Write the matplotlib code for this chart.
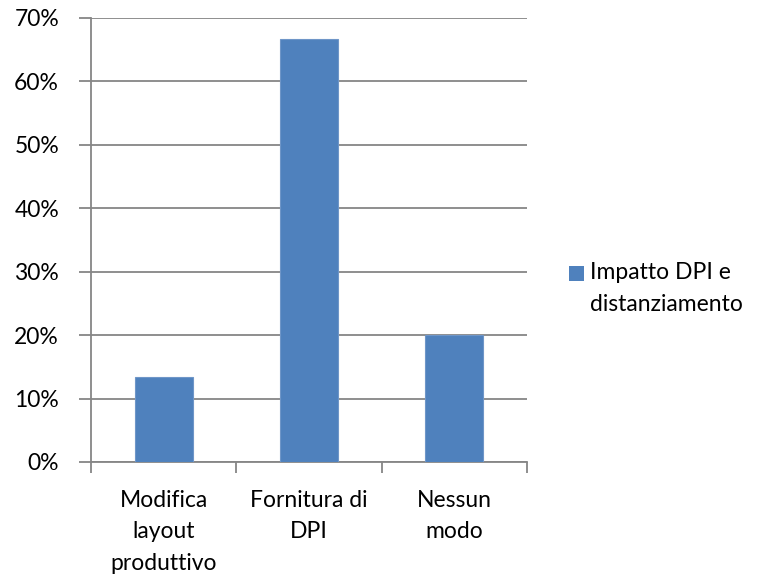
import matplotlib
matplotlib.use("Agg")
import matplotlib.pyplot as plt
from matplotlib.patches import Rectangle
from matplotlib.ticker import FuncFormatter, MultipleLocator

categories = ["Modifica\nlayout\nproduttivo", "Fornitura di\nDPI", "Nessun\nmodo"]
values = [13.33, 66.67, 20.0]
series_name = "Impatto DPI e\ndistanziamento"

plt.rcParams['font.family'] = ['Lato', 'DejaVu Sans']
FS = 16.5
BAR_COLOR = "#4F81BD"

W, H = 773, 574
fig = plt.figure(figsize=(W/100, H/100), dpi=100)
ax = fig.add_axes([91/W, 1-462/H, (527-91)/W, (462-18)/H])

grid_color = "#868686"
x = list(range(len(categories)))
ax.bar(x, values, width=0.4, color=BAR_COLOR, edgecolor="#6F96C8", linewidth=0.8,
       zorder=3, label=series_name)

ax.set_xlim(-0.5, len(categories) - 0.5)
ax.set_ylim(0, 70)
ax.yaxis.set_major_locator(MultipleLocator(10))
ax.yaxis.set_major_formatter(FuncFormatter(lambda v, p: f"{int(round(v))}%"))
ax.grid(axis="y", color=grid_color, linewidth=1.3, zorder=0)
ax.set_axisbelow(True)

for s in ["top", "right"]:
    ax.spines[s].set_visible(False)
for s in ["left", "bottom"]:
    ax.spines[s].set_color(grid_color)
    ax.spines[s].set_linewidth(1.3)

ax.tick_params(axis="y", length=9, width=1.3, color=grid_color, pad=14,
               labelsize=FS, labelcolor="black")
ax.set_xticks([-0.5, 0.5, 1.5, 2.5])
ax.set_xticklabels([])
ax.tick_params(axis="x", length=8, width=1.3, color=grid_color)
ax.set_xticks(x, minor=True)
ax.set_xticklabels(categories, minor=True, fontsize=FS, linespacing=1.62)
ax.tick_params(axis="x", which="minor", length=0, pad=20)

# legend (square aligned with first text line, like the original)
fig.patches.append(Rectangle((569/W, 1-281/H), 15/W, 15/H, transform=fig.transFigure,
                             facecolor=BAR_COLOR, edgecolor="none", figure=fig))
fig.text(590/W, 1-262/H, series_name, fontsize=FS, ha="left", va="top",
         linespacing=1.62)

fig.savefig("out.png", dpi=100)
